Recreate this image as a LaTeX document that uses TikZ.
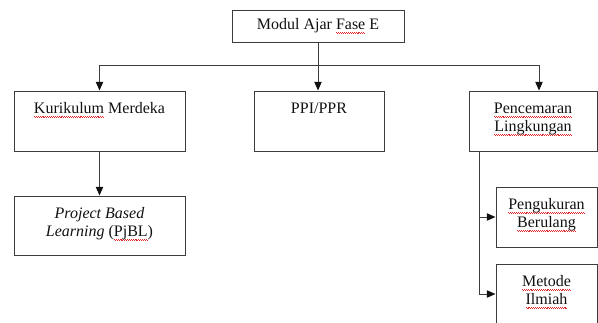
\documentclass[tikz,border=0pt]{standalone}
\usepackage{fontspec}
\setmainfont{Liberation Serif}
\usepackage{tikz}
\usetikzlibrary{arrows.meta,positioning}
\definecolor{Ink}{HTML}{111111}
\definecolor{Edge}{HTML}{3C3C3C}
\definecolor{Squiggle}{HTML}{E0282C}
\newsavebox\spellbox
\newcommand\spell[1]{\sbox\spellbox{#1}\leavevmode\rlap{\textcolor{Squiggle}{\hbox to\wd\spellbox{\xleaders\hbox{\raisebox{-2.3pt}{\rule{.7pt}{.55pt}}\raisebox{-3pt}{\rule{.7pt}{.55pt}}}\hfill}}}\usebox\spellbox}
\newcommand\boxtxt[3]{\parbox[c][\dimexpr #2pt*3/4\relax][t]{\dimexpr #1pt*3/4\relax}{\centering\vspace*{7.5pt}\strut #3\par}}
\tikzset{
  >={Triangle[length=6.5pt,width=5.5pt,color=Ink]},
  blk/.style={draw=Edge,line width=.75pt,inner sep=0pt,text=Ink,font=\fontsize{12}{13.5}\selectfont},
  flow/.style={->,line width=.75pt,draw=Edge}
}

\begin{document}
\begin{tikzpicture}[x=.75pt,y=-.75pt]
  \useasboundingbox (0,0) rectangle (598,322);
  \node[blk,minimum width=129pt,minimum height=24pt] (top) at (318,26) {Modul Ajar \spell{Fase} E};
  \node[blk] (kur) at (99.5,121) {\boxtxt{171}{60}{\spell{Kurikulum} Merdeka}};
  \node[blk] (ppi) at (319,121) {\boxtxt{130}{60}{PPI/PPR}};
  \node[blk] (pen) at (533,121) {\boxtxt{128}{60}{\spell{Pencemaran}\\ \spell{Lingkungan}}};
  \node[blk] (pjbl) at (99.5,225.5) {\boxtxt{171}{59}{\textit{Project Based}\\ \textit{Learning} (\spell{PjBL})}};
  \node[blk] (peng) at (546.5,217) {\boxtxt{101}{60}{\spell{Pengukuran}\\ \spell{Berulang}}};
  \node[blk] (met) at (546.5,294) {\boxtxt{101}{60}{\spell{Metode}\\ \spell{Ilmiah}}};
  % branches from the top box
  \coordinate (split) at (318,65);
  \draw[flow] (top.south) -- (top.south |- ppi.north);
  \draw[flow] (split) -| (kur.north);
  \draw[flow] (split) -| ([xshift=4.5pt]pen.north);
  \draw[flow] (kur.south) -- (pjbl.north);
  % side branch
  \coordinate (trunk) at ([xshift=8.25pt]pen.south west);
  \draw[flow] (trunk) |- (peng.west);
  \draw[flow] (trunk) |- (met.west);
\end{tikzpicture}
\end{document}
